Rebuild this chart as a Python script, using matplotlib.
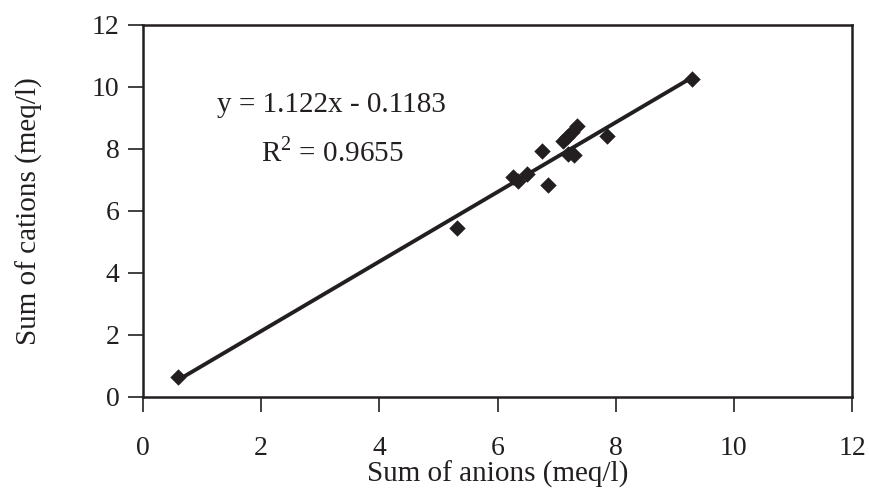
import numpy as np
import matplotlib.pyplot as plt

plt.rcParams['font.family'] = ['Liberation Serif', 'DejaVu Serif']
plt.rcParams['mathtext.fontset'] = 'custom'
plt.rcParams['mathtext.rm'] = 'Liberation Serif'

# sums of anions / cations (meq/l)
anions = [0.60, 5.31, 6.26, 6.35, 6.50, 6.75, 6.85, 7.11, 7.17, 7.26, 7.34, 7.20, 7.30, 7.85, 9.30]
cations = [0.65, 5.44, 7.11, 6.98, 7.18, 7.95, 6.84, 8.27, 8.40, 8.56, 8.74, 7.83, 7.81, 8.42, 10.25]
slope = 1.122
intercept = -0.1183
r2 = 0.9655
ticks = [0, 2, 4, 6, 8, 10, 12]

fig = plt.figure(figsize=(8.69, 4.92), dpi=100)
ax = fig.add_axes([143 / 869, 1 - 397 / 492, (852 - 143) / 869, (397 - 25) / 492])

ax.scatter(anions, cations, marker='D', s=70, color='#231f20', zorder=3, linewidths=0)
xl = np.array([min(anions), max(anions)])
ax.plot(xl, slope * xl + intercept, color='#231f20', lw=2.8, zorder=2)

ax.set_xlim(0, 12)
ax.set_ylim(0, 12)
ax.set_xticks(ticks)
ax.set_yticks(ticks)
ax.tick_params(direction='out', length=11, width=1.2, labelsize=20, colors='#231f20')
ax.tick_params(axis='x', pad=17)
ax.tick_params(axis='y', pad=6)
for s in ax.spines.values():
    s.set_linewidth(1.8)
    s.set_color('#231f20')

ax.set_xlabel('Sum of anions (meq/l)', fontsize=21, color='#231f20', labelpad=0)
ax.set_ylabel('Sum of cations (meq/l)', fontsize=21, color='#231f20', labelpad=35)

ax.text(1.25, 9.42, f'y = {slope}x - {abs(intercept)}', fontsize=21, color='#231f20', va='center')
ax.text(2.0, 7.9, f'R$^{{2}}$ = {r2}', fontsize=21, color='#231f20', va='center')

fig.savefig('out.png', dpi=100)
